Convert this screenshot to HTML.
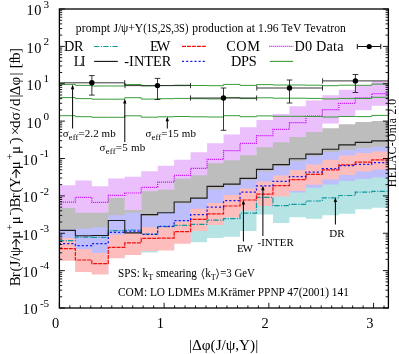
<!DOCTYPE html>
<html><head><meta charset="utf-8"><title>chart</title>
<style>html,body{margin:0;padding:0;background:#fff;}svg{display:block;}text{font-family:"Liberation Serif",serif;fill:#000;}</style></head><body>
<div style="will-change:transform;width:399px;height:354px;overflow:hidden;">
<svg width="399" height="354" viewBox="0 0 399 354">
<rect x="0" y="0" width="399" height="354" fill="#fff"/>
<defs><clipPath id="cp"><rect x="59.4" y="9" width="329" height="299"/></clipPath></defs>
<g clip-path="url(#cp)">
<path d="M58.9 185.2 L75.36 185.2 L75.36 180.6 L91.83 180.6 L91.83 186.2 L108.29 186.2 L108.29 178.6 L124.76 178.6 L124.76 176.7 L141.22 176.7 L141.22 171.2 L157.69 171.2 L157.69 165.7 L174.16 165.7 L174.16 159.7 L190.62 159.7 L190.62 152.2 L207.09 152.2 L207.09 143.2 L223.55 143.2 L223.55 134.6 L240.02 134.6 L240.02 127.2 L256.48 127.2 L256.48 119.9 L272.94 119.9 L272.94 113.9 L289.41 113.9 L289.41 106.2 L305.88 106.2 L305.88 100.5 L322.34 100.5 L322.34 95.2 L338.8 95.2 L338.8 89.8 L355.27 89.8 L355.27 85.5 L371.73 85.5 L371.73 81.2 L388.2 81.2 L388.2 105.8 L371.73 105.8 L371.73 110.3 L355.27 110.3 L355.27 116.7 L338.8 116.7 L338.8 123.5 L322.34 123.5 L322.34 135.9 L305.88 135.9 L305.88 141.1 L289.41 141.1 L289.41 146.3 L272.94 146.3 L272.94 151.3 L256.48 151.3 L256.48 159.3 L240.02 159.3 L240.02 164.3 L223.55 164.3 L223.55 167.3 L207.09 167.3 L207.09 179.3 L190.62 179.3 L190.62 182.8 L174.16 182.8 L174.16 193.8 L157.69 193.8 L157.69 195.3 L141.22 195.3 L141.22 213.9 L124.76 213.9 L124.76 202 L108.29 202 L108.29 216.8 L91.83 216.8 L91.83 216.8 L75.36 216.8 L75.36 212 L58.9 212Z" fill="#ebbefc" stroke="none"/>
<path d="M58.9 208 L75.36 208 L75.36 212.8 L91.83 212.8 L91.83 212.8 L108.29 212.8 L108.29 198 L124.76 198 L124.76 209.9 L141.22 209.9 L141.22 191.3 L157.69 191.3 L157.69 189.8 L174.16 189.8 L174.16 178.8 L190.62 178.8 L190.62 175.3 L207.09 175.3 L207.09 163.3 L223.55 163.3 L223.55 160.3 L240.02 160.3 L240.02 155.3 L256.48 155.3 L256.48 147.3 L272.94 147.3 L272.94 142.3 L289.41 142.3 L289.41 137.1 L305.88 137.1 L305.88 131.9 L322.34 131.9 L322.34 128.3 L338.8 128.3 L338.8 124.3 L355.27 124.3 L355.27 122.1 L371.73 122.1 L371.73 120.9 L388.2 120.9 L388.2 149.7 L371.73 149.7 L371.73 151 L355.27 151 L355.27 153.1 L338.8 153.1 L338.8 155 L322.34 155 L322.34 159.1 L305.88 159.1 L305.88 164 L289.41 164 L289.41 169.3 L272.94 169.3 L272.94 174.5 L256.48 174.5 L256.48 183 L240.02 183 L240.02 188.5 L223.55 188.5 L223.55 192.5 L207.09 192.5 L207.09 202 L190.62 202 L190.62 206.5 L174.16 206.5 L174.16 215 L157.69 215 L157.69 219.2 L141.22 219.2 L141.22 215.8 L124.76 215.8 L124.76 218.2 L108.29 218.2 L108.29 230.3 L91.83 230.3 L91.83 231.7 L75.36 231.7 L75.36 232.5 L58.9 232.5Z" fill="#bdbdbd" stroke="none"/>
<path d="M58.9 257.8 L75.36 257.8 L75.36 269 L91.83 269 L91.83 271.6 L108.29 271.6 L108.29 255.3 L124.76 255.3 L124.76 252 L141.22 252 L141.22 248 L157.69 248 L157.69 247.5 L174.16 247.5 L174.16 240.8 L190.62 240.8 L190.62 228 L207.09 228 L207.09 222 L223.55 222 L223.55 214.5 L240.02 214.5 L240.02 207.6 L256.48 207.6 L256.48 203 L272.94 203 L272.94 193.4 L289.41 193.4 L289.41 188.1 L305.88 188.1 L305.88 181.8 L322.34 181.8 L322.34 176.5 L338.8 176.5 L338.8 172 L355.27 172 L355.27 168.6 L371.73 168.6 L371.73 166.6 L388.2 166.6 L388.2 207.8 L371.73 207.8 L371.73 209.2 L355.27 209.2 L355.27 213.8 L338.8 213.8 L338.8 215.3 L322.34 215.3 L322.34 218.7 L305.88 218.7 L305.88 217.3 L289.41 217.3 L289.41 223 L272.94 223 L272.94 214.6 L256.48 214.6 L256.48 231 L240.02 231 L240.02 236.8 L223.55 236.8 L223.55 238 L207.09 238 L207.09 242.3 L190.62 242.3 L190.62 242.8 L174.16 242.8 L174.16 249.5 L157.69 249.5 L157.69 252.5 L141.22 252.5 L141.22 254 L124.76 254 L124.76 257.3 L108.29 257.3 L108.29 273.6 L91.83 273.6 L91.83 271 L75.36 271 L75.36 259.8 L58.9 259.8Z" fill="#b6e3e4" stroke="none"/>
<path d="M58.9 229.5 L75.36 229.5 L75.36 228.7 L91.83 228.7 L91.83 227.3 L108.29 227.3 L108.29 215.2 L124.76 215.2 L124.76 212.8 L141.22 212.8 L141.22 216.2 L157.69 216.2 L157.69 212 L174.16 212 L174.16 203.5 L190.62 203.5 L190.62 199 L207.09 199 L207.09 189.5 L223.55 189.5 L223.55 185.5 L240.02 185.5 L240.02 180 L256.48 180 L256.48 171.5 L272.94 171.5 L272.94 166.3 L289.41 166.3 L289.41 161 L305.88 161 L305.88 156.1 L322.34 156.1 L322.34 152 L338.8 152 L338.8 150.1 L355.27 150.1 L355.27 148 L371.73 148 L371.73 146.7 L388.2 146.7 L388.2 177.6 L371.73 177.6 L371.73 179 L355.27 179 L355.27 181 L338.8 181 L338.8 184.5 L322.34 184.5 L322.34 187.7 L305.88 187.7 L305.88 192.5 L289.41 192.5 L289.41 195.4 L272.94 195.4 L272.94 205 L256.48 205 L256.48 209.6 L240.02 209.6 L240.02 216.5 L223.55 216.5 L223.55 224 L207.09 224 L207.09 230 L190.62 230 L190.62 242.8 L174.16 242.8 L174.16 249.5 L157.69 249.5 L157.69 250 L141.22 250 L141.22 254 L124.76 254 L124.76 257.3 L108.29 257.3 L108.29 273.6 L91.83 273.6 L91.83 271 L75.36 271 L75.36 259.8 L58.9 259.8Z" fill="#bebefd" stroke="none"/>
<path d="M58.9 238 L75.36 238 L75.36 249 L91.83 249 L91.83 253.1 L108.29 253.1 L108.29 234.8 L124.76 234.8 L124.76 233 L141.22 233 L141.22 227.3 L157.69 227.3 L157.69 226.5 L174.16 226.5 L174.16 221.5 L190.62 221.5 L190.62 208.8 L207.09 208.8 L207.09 203 L223.55 203 L223.55 195 L240.02 195 L240.02 188.5 L256.48 188.5 L256.48 181.6 L272.94 181.6 L272.94 175.4 L289.41 175.4 L289.41 170 L305.88 170 L305.88 164.6 L322.34 164.6 L322.34 159.8 L338.8 159.8 L338.8 155.6 L355.27 155.6 L355.27 153 L371.73 153 L371.73 151.5 L388.2 151.5 L388.2 169.6 L371.73 169.6 L371.73 171.6 L355.27 171.6 L355.27 175 L338.8 175 L338.8 179.5 L322.34 179.5 L322.34 184.8 L305.88 184.8 L305.88 191.1 L289.41 191.1 L289.41 196.4 L272.94 196.4 L272.94 206 L256.48 206 L256.48 210.6 L240.02 210.6 L240.02 217.5 L223.55 217.5 L223.55 225 L207.09 225 L207.09 231 L190.62 231 L190.62 243.8 L174.16 243.8 L174.16 250.5 L157.69 250.5 L157.69 251 L141.22 251 L141.22 255 L124.76 255 L124.76 258.3 L108.29 258.3 L108.29 274.6 L91.83 274.6 L91.83 272 L75.36 272 L75.36 260.8 L58.9 260.8Z" fill="#fdbdbd" stroke="none"/>
</g>
<g clip-path="url(#cp)">
<path d="M58.9 202.1 L75.36 202.1 L75.36 197.4 L91.83 197.4 L91.83 202.4 L108.29 202.4 L108.29 195.4 L124.76 195.4 L124.76 193 L141.22 193 L141.22 187.4 L157.69 187.4 L157.69 182.1 L174.16 182.1 L174.16 175.4 L190.62 175.4 L190.62 168.4 L207.09 168.4 L207.09 159.4 L223.55 159.4 L223.55 150.7 L240.02 150.7 L240.02 143.4 L256.48 143.4 L256.48 135.6 L272.94 135.6 L272.94 129.4 L289.41 129.4 L289.41 122.6 L305.88 122.6 L305.88 116.2 L322.34 116.2 L322.34 109.6 L338.8 109.6 L338.8 103.4 L355.27 103.4 L355.27 97.9 L371.73 97.9 L371.73 93.6 L388.2 93.6" fill="none" stroke="#c400f6" stroke-width="1.2" stroke-dasharray="1 1" stroke-linejoin="miter"/>
<path d="M58.9 240.7 L75.36 240.7 L75.36 237.1 L91.83 237.1 L91.83 237.4 L108.29 237.4 L108.29 230.7 L124.76 230.7 L124.76 230 L141.22 230 L141.22 234.2 L157.69 234.2 L157.69 226.7 L174.16 226.7 L174.16 225.4 L190.62 225.4 L190.62 224.4 L207.09 224.4 L207.09 220.1 L223.55 220.1 L223.55 218.6 L240.02 218.6 L240.02 213.2 L256.48 213.2 L256.48 197.4 L272.94 197.4 L272.94 205.7 L289.41 205.7 L289.41 204.4 L305.88 204.4 L305.88 201 L322.34 201 L322.34 197.8 L338.8 197.8 L338.8 195.5 L355.27 195.5 L355.27 192.2 L371.73 192.2 L371.73 191.4 L388.2 191.4" fill="none" stroke="#12989f" stroke-width="1.2" stroke-dasharray="5.3 1.5 1.1 1.3" stroke-linejoin="miter"/>
<path d="M58.9 248.6 L75.36 248.6 L75.36 260 L91.83 260 L91.83 263.7 L108.29 263.7 L108.29 247.4 L124.76 247.4 L124.76 242.9 L141.22 242.9 L141.22 238.4 L157.69 238.4 L157.69 238.1 L174.16 238.1 L174.16 231.7 L190.62 231.7 L190.62 219.4 L207.09 219.4 L207.09 213.8 L223.55 213.8 L223.55 206 L240.02 206 L240.02 200 L256.48 200 L256.48 194.2 L272.94 194.2 L272.94 185.6 L289.41 185.6 L289.41 179.7 L305.88 179.7 L305.88 174.4 L322.34 174.4 L322.34 169.8 L338.8 169.8 L338.8 164.8 L355.27 164.8 L355.27 162.2 L371.73 162.2 L371.73 159.8 L388.2 159.8" fill="none" stroke="#f01010" stroke-width="1.2" stroke-dasharray="4 0.95" stroke-linejoin="miter"/>
<path d="M58.9 243.6 L75.36 243.6 L75.36 245.7 L91.83 245.7 L91.83 243.6 L108.29 243.6 L108.29 232.3 L124.76 232.3 L124.76 231 L141.22 231 L141.22 234.3 L157.69 234.3 L157.69 226.3 L174.16 226.3 L174.16 220.6 L190.62 220.6 L190.62 214.7 L207.09 214.7 L207.09 207 L223.55 207 L223.55 200.7 L240.02 200.7 L240.02 192 L256.48 192 L256.48 185.9 L272.94 185.9 L272.94 181.3 L289.41 181.3 L289.41 176.6 L305.88 176.6 L305.88 172 L322.34 172 L322.34 168.7 L338.8 168.7 L338.8 165.7 L355.27 165.7 L355.27 164.3 L371.73 164.3 L371.73 162.7 L388.2 162.7" fill="none" stroke="#1818f0" stroke-width="1.25" stroke-dasharray="2.1 2.05" stroke-linejoin="miter"/>
<path d="M58.9 230.4 L75.36 230.4 L75.36 235.8 L91.83 235.8 L91.83 235.5 L108.29 235.5 L108.29 220.5 L124.76 220.5 L124.76 232.9 L141.22 232.9 L141.22 214.6 L157.69 214.6 L157.69 212.8 L174.16 212.8 L174.16 202 L190.62 202 L190.62 198.1 L207.09 198.1 L207.09 186.4 L223.55 186.4 L223.55 184.1 L240.02 184.1 L240.02 178.4 L256.48 178.4 L256.48 169.4 L272.94 169.4 L272.94 164.6 L289.41 164.6 L289.41 158.8 L305.88 158.8 L305.88 154.1 L322.34 154.1 L322.34 149.2 L338.8 149.2 L338.8 144.9 L355.27 144.9 L355.27 142.4 L371.73 142.4 L371.73 140.9 L388.2 140.9" fill="none" stroke="#1c1c1c" stroke-width="1.1" stroke-linejoin="miter"/>
<path d="M58.9 84.4 L75.36 84.4 L75.36 85.4 L91.83 85.4 L91.83 86 L108.29 86 L108.29 86 L124.76 86 L124.76 84.5 L141.22 84.5 L141.22 85.9 L157.69 85.9 L157.69 85.5 L174.16 85.5 L174.16 85.2 L190.62 85.2 L190.62 85.5 L207.09 85.5 L207.09 85.7 L223.55 85.7 L223.55 84.4 L240.02 84.4 L240.02 85.4 L256.48 85.4 L256.48 84.6 L272.94 84.6 L272.94 85 L289.41 85 L289.41 85 L305.88 85 L305.88 85.2 L322.34 85.2 L322.34 85.7 L338.8 85.7 L338.8 85.2 L355.27 85.2 L355.27 85.3 L371.73 85.3 L371.73 84.1 L388.2 84.1" fill="none" stroke="#3a9c3a" stroke-width="1.0" stroke-linejoin="miter"/>
<path d="M58.9 97.6 L75.36 97.6 L75.36 98.6 L91.83 98.6 L91.83 99.2 L108.29 99.2 L108.29 99.2 L124.76 99.2 L124.76 97.7 L141.22 97.7 L141.22 99.1 L157.69 99.1 L157.69 98.7 L174.16 98.7 L174.16 98.4 L190.62 98.4 L190.62 98.7 L207.09 98.7 L207.09 98.9 L223.55 98.9 L223.55 97.6 L240.02 97.6 L240.02 98.6 L256.48 98.6 L256.48 97.8 L272.94 97.8 L272.94 98.2 L289.41 98.2 L289.41 98.2 L305.88 98.2 L305.88 98.4 L322.34 98.4 L322.34 98.9 L338.8 98.9 L338.8 98.4 L355.27 98.4 L355.27 98.5 L371.73 98.5 L371.73 97.3 L388.2 97.3" fill="none" stroke="#3a9c3a" stroke-width="1.0" stroke-linejoin="miter"/>
<path d="M58.9 115.7 L75.36 115.7 L75.36 116.7 L91.83 116.7 L91.83 117.3 L108.29 117.3 L108.29 117.3 L124.76 117.3 L124.76 115.8 L141.22 115.8 L141.22 117.2 L157.69 117.2 L157.69 116.8 L174.16 116.8 L174.16 116.5 L190.62 116.5 L190.62 116.8 L207.09 116.8 L207.09 117 L223.55 117 L223.55 115.7 L240.02 115.7 L240.02 116.7 L256.48 116.7 L256.48 115.9 L272.94 115.9 L272.94 116.3 L289.41 116.3 L289.41 116.3 L305.88 116.3 L305.88 116.5 L322.34 116.5 L322.34 117 L338.8 117 L338.8 116.5 L355.27 116.5 L355.27 116.6 L371.73 116.6 L371.73 115.4 L388.2 115.4" fill="none" stroke="#3a9c3a" stroke-width="1.0" stroke-linejoin="miter"/>
</g>
<g stroke="#222" stroke-width="0.9" fill="none">
<path d="M59.4 82.8 H124.7 M59.4 80.2 V85.4 M124.7 80.2 V85.4 M91.85 75.6 V95.1 M89.05 75.6 H94.65 M89.05 95.1 H94.65"/>
<path d="M125 85.6 H190.5 M125 83 V88.2 M190.5 83 V88.2 M157.5 78.4 V99.5 M154.7 78.4 H160.3 M154.7 99.5 H160.3"/>
<path d="M190.5 98 H256.6 M190.5 95.4 V100.6 M256.6 95.4 V100.6 M223.5 88 V130.3 M220.7 88 H226.3 M220.7 130.3 H226.3"/>
<path d="M256.8 88 H322.5 M256.8 85.4 V90.6 M322.5 85.4 V90.6 M289.5 80 V103 M286.7 80 H292.3 M286.7 103 H292.3"/>
<path d="M322.6 80.9 H388.4 M322.6 78.3 V83.5 M388.4 78.3 V83.5 M355.4 74.5 V92.5 M352.6 74.5 H358.2 M352.6 92.5 H358.2"/>
</g>
<circle cx="91.85" cy="82.8" r="2.7" fill="#000"/>
<circle cx="157.5" cy="85.6" r="2.7" fill="#000"/>
<circle cx="223.5" cy="98" r="2.7" fill="#000"/>
<circle cx="289.5" cy="88" r="2.7" fill="#000"/>
<circle cx="355.4" cy="80.9" r="2.7" fill="#000"/>
<path d="M72.6 128.5 V86.6" stroke="#000" stroke-width="1" fill="none"/><path d="M72.6 84.6 L70.9 89.2 L74.3 89.2 Z" fill="#000"/>
<path d="M124.8 142 V100.8" stroke="#000" stroke-width="1" fill="none"/><path d="M124.8 98.8 L123.1 103.4 L126.5 103.4 Z" fill="#000"/>
<path d="M167.3 128.5 V118.7" stroke="#000" stroke-width="1" fill="none"/><path d="M167.3 116.7 L165.6 121.3 L169 121.3 Z" fill="#000"/>
<path d="M243.4 241.5 V202" stroke="#000" stroke-width="1" fill="none"/><path d="M243.4 200 L241.7 204.6 L245.1 204.6 Z" fill="#000"/>
<path d="M262.9 236 V187.6" stroke="#000" stroke-width="1" fill="none"/><path d="M262.9 185.6 L261.2 190.2 L264.6 190.2 Z" fill="#000"/>
<path d="M335.4 224.5 V199.4" stroke="#000" stroke-width="1" fill="none"/><path d="M335.4 197.4 L333.7 202 L337.1 202 Z" fill="#000"/>
<g stroke="#000" fill="none">
<rect x="59.4" y="9" width="329" height="299" stroke-width="1.3"/>
<path d="M59.4 9 h5.5 M388.4 9 h-5.5 M59.4 35.12 h2.8 M388.4 35.12 h-2.8 M59.4 28.54 h2.8 M388.4 28.54 h-2.8 M59.4 23.87 h2.8 M388.4 23.87 h-2.8 M59.4 20.25 h2.8 M388.4 20.25 h-2.8 M59.4 17.29 h2.8 M388.4 17.29 h-2.8 M59.4 14.79 h2.8 M388.4 14.79 h-2.8 M59.4 12.62 h2.8 M388.4 12.62 h-2.8 M59.4 10.71 h2.8 M388.4 10.71 h-2.8 M59.4 46.38 h5.5 M388.4 46.38 h-5.5 M59.4 72.5 h2.8 M388.4 72.5 h-2.8 M59.4 65.92 h2.8 M388.4 65.92 h-2.8 M59.4 61.25 h2.8 M388.4 61.25 h-2.8 M59.4 57.63 h2.8 M388.4 57.63 h-2.8 M59.4 54.67 h2.8 M388.4 54.67 h-2.8 M59.4 52.16 h2.8 M388.4 52.16 h-2.8 M59.4 50 h2.8 M388.4 50 h-2.8 M59.4 48.09 h2.8 M388.4 48.09 h-2.8 M59.4 83.75 h5.5 M388.4 83.75 h-5.5 M59.4 109.87 h2.8 M388.4 109.87 h-2.8 M59.4 103.29 h2.8 M388.4 103.29 h-2.8 M59.4 98.62 h2.8 M388.4 98.62 h-2.8 M59.4 95 h2.8 M388.4 95 h-2.8 M59.4 92.04 h2.8 M388.4 92.04 h-2.8 M59.4 89.54 h2.8 M388.4 89.54 h-2.8 M59.4 87.37 h2.8 M388.4 87.37 h-2.8 M59.4 85.46 h2.8 M388.4 85.46 h-2.8 M59.4 121.12 h5.5 M388.4 121.12 h-5.5 M59.4 147.25 h2.8 M388.4 147.25 h-2.8 M59.4 140.67 h2.8 M388.4 140.67 h-2.8 M59.4 136 h2.8 M388.4 136 h-2.8 M59.4 132.38 h2.8 M388.4 132.38 h-2.8 M59.4 129.42 h2.8 M388.4 129.42 h-2.8 M59.4 126.91 h2.8 M388.4 126.91 h-2.8 M59.4 124.75 h2.8 M388.4 124.75 h-2.8 M59.4 122.84 h2.8 M388.4 122.84 h-2.8 M59.4 158.5 h5.5 M388.4 158.5 h-5.5 M59.4 184.62 h2.8 M388.4 184.62 h-2.8 M59.4 178.04 h2.8 M388.4 178.04 h-2.8 M59.4 173.37 h2.8 M388.4 173.37 h-2.8 M59.4 169.75 h2.8 M388.4 169.75 h-2.8 M59.4 166.79 h2.8 M388.4 166.79 h-2.8 M59.4 164.29 h2.8 M388.4 164.29 h-2.8 M59.4 162.12 h2.8 M388.4 162.12 h-2.8 M59.4 160.21 h2.8 M388.4 160.21 h-2.8 M59.4 195.88 h5.5 M388.4 195.88 h-5.5 M59.4 222 h2.8 M388.4 222 h-2.8 M59.4 215.42 h2.8 M388.4 215.42 h-2.8 M59.4 210.75 h2.8 M388.4 210.75 h-2.8 M59.4 207.13 h2.8 M388.4 207.13 h-2.8 M59.4 204.17 h2.8 M388.4 204.17 h-2.8 M59.4 201.66 h2.8 M388.4 201.66 h-2.8 M59.4 199.5 h2.8 M388.4 199.5 h-2.8 M59.4 197.59 h2.8 M388.4 197.59 h-2.8 M59.4 233.25 h5.5 M388.4 233.25 h-5.5 M59.4 259.37 h2.8 M388.4 259.37 h-2.8 M59.4 252.79 h2.8 M388.4 252.79 h-2.8 M59.4 248.12 h2.8 M388.4 248.12 h-2.8 M59.4 244.5 h2.8 M388.4 244.5 h-2.8 M59.4 241.54 h2.8 M388.4 241.54 h-2.8 M59.4 239.04 h2.8 M388.4 239.04 h-2.8 M59.4 236.87 h2.8 M388.4 236.87 h-2.8 M59.4 234.96 h2.8 M388.4 234.96 h-2.8 M59.4 270.62 h5.5 M388.4 270.62 h-5.5 M59.4 296.75 h2.8 M388.4 296.75 h-2.8 M59.4 290.17 h2.8 M388.4 290.17 h-2.8 M59.4 285.5 h2.8 M388.4 285.5 h-2.8 M59.4 281.88 h2.8 M388.4 281.88 h-2.8 M59.4 278.92 h2.8 M388.4 278.92 h-2.8 M59.4 276.41 h2.8 M388.4 276.41 h-2.8 M59.4 274.25 h2.8 M388.4 274.25 h-2.8 M59.4 272.34 h2.8 M388.4 272.34 h-2.8 M59.4 308 h5.5 M388.4 308 h-5.5 M59.4 308 v-5.2 M69.87 308 v-2.6 M80.34 308 v-2.6 M90.82 308 v-2.6 M101.29 308 v-2.6 M111.76 308 v-2.6 M122.23 308 v-2.6 M132.71 308 v-2.6 M143.18 308 v-2.6 M153.65 308 v-2.6 M164.12 308 v-5.2 M174.6 308 v-2.6 M185.07 308 v-2.6 M195.54 308 v-2.6 M206.01 308 v-2.6 M216.49 308 v-2.6 M226.96 308 v-2.6 M237.43 308 v-2.6 M247.9 308 v-2.6 M258.38 308 v-2.6 M268.85 308 v-5.2 M279.32 308 v-2.6 M289.79 308 v-2.6 M300.27 308 v-2.6 M310.74 308 v-2.6 M321.21 308 v-2.6 M331.68 308 v-2.6 M342.15 308 v-2.6 M352.63 308 v-2.6 M363.1 308 v-2.6 M373.57 308 v-5.2 M384.04 308 v-2.6" stroke-width="0.9"/>
</g>
<text x="26.4" y="15.4" font-size="14.3" letter-spacing="0.8">10</text>
<text x="43.4" y="7.7" font-size="11.2">3</text>
<text x="26.4" y="52.77" font-size="14.3" letter-spacing="0.8">10</text>
<text x="43.4" y="45.07" font-size="11.2">2</text>
<text x="26.4" y="90.15" font-size="14.3" letter-spacing="0.8">10</text>
<text x="43.4" y="82.45" font-size="11.2">1</text>
<text x="26.4" y="127.53" font-size="14.3" letter-spacing="0.8">10</text>
<text x="43.4" y="119.83" font-size="11.2">0</text>
<text x="22.6" y="164.9" font-size="14.3" letter-spacing="0.8">10</text>
<text x="39.9" y="157.2" font-size="11.2">-1</text>
<text x="22.6" y="202.28" font-size="14.3" letter-spacing="0.8">10</text>
<text x="39.9" y="194.58" font-size="11.2">-2</text>
<text x="22.6" y="239.65" font-size="14.3" letter-spacing="0.8">10</text>
<text x="39.9" y="231.95" font-size="11.2">-3</text>
<text x="22.6" y="277.02" font-size="14.3" letter-spacing="0.8">10</text>
<text x="39.9" y="269.32" font-size="11.2">-4</text>
<text x="22.6" y="314.4" font-size="14.3" letter-spacing="0.8">10</text>
<text x="39.9" y="306.7" font-size="11.2">-5</text>
<text x="59.2" y="327.8" font-size="14.4" text-anchor="end">0</text>
<text x="163.92" y="327.8" font-size="14.4" text-anchor="end">1</text>
<text x="268.65" y="327.8" font-size="14.4" text-anchor="end">2</text>
<text x="373.37" y="327.8" font-size="14.4" text-anchor="end">3</text>
<text x="189.0" y="349.6" font-size="15.3" textLength="69.2" lengthAdjust="spacing">|Δφ(J/ψ,Υ)|</text>
<g transform="translate(20.0 285.5) rotate(-90)">
<text x="-0.8" y="0" font-size="15">B</text>
<text x="8.32" y="0" font-size="15">r</text>
<text x="14.01" y="0" font-size="15">(</text>
<text x="18.98" y="0" font-size="15">J</text>
<text x="25.02" y="0" font-size="15">/</text>
<text x="29.3" y="0" font-size="15">ψ</text>
<path d="M37.9 -3.9 H46.3 M42 -7.9 L46.3 -3.9 L42 0.1" stroke="#000" stroke-width="1.05" fill="none"/>
<text x="46.88" y="0" font-size="15">μ</text>
<text x="55.15" y="-7.3" font-size="10.8">+</text>
<text x="61.28" y="0" font-size="15">μ</text>
<text x="70" y="-7.3" font-size="10.8">-</text>
<text x="73.19" y="0" font-size="15">)</text>
<text x="78.1" y="0" font-size="15">B</text>
<text x="87.17" y="0" font-size="15">r</text>
<text x="92.91" y="0" font-size="15">(</text>
<text x="97.54" y="0" font-size="15">Υ</text>
<path d="M107.6 -3.9 H116 M111.7 -7.9 L116 -3.9 L111.7 0.1" stroke="#000" stroke-width="1.05" fill="none"/>
<text x="116.38" y="0" font-size="15">μ</text>
<text x="126.05" y="-7.3" font-size="10.8">+</text>
<text x="131.58" y="0" font-size="15">μ</text>
<text x="141.2" y="-7.3" font-size="10.8">-</text>
<text x="143.09" y="0" font-size="15">)</text>
<text x="150.16" y="0" font-size="15">×</text>
<text x="157.42" y="0" font-size="15">d</text>
<text x="165.28" y="0" font-size="15">σ</text>
<text x="174.51" y="0" font-size="15">/</text>
<text x="179.47" y="0" font-size="15">d</text>
<text x="187.9" y="0" font-size="15">|</text>
<text x="190.18" y="0" font-size="15">Δ</text>
<text x="200.02" y="0" font-size="15">φ</text>
<text x="210" y="0" font-size="15">|</text>
<text x="217.22" y="0" font-size="15">[</text>
<text x="221.77" y="0" font-size="15">f</text>
<text x="225.44" y="0" font-size="15">b</text>
<text x="232.64" y="0" font-size="15">]</text>
</g>
<g transform="translate(396.4 187.2) rotate(-90)"><text x="0" y="0" font-size="11.7" textLength="88.2" lengthAdjust="spacing">HELAC-Onia 2.0</text></g>
<text x="75.8" y="31.5" font-size="11.6" textLength="34.3" lengthAdjust="spacing">prompt</text>
<text x="113.4" y="31.5" font-size="11.6" textLength="29.8" lengthAdjust="spacing">J/ψ+Υ</text>
<text x="143.2" y="31.5" font-size="11.6" textLength="45.2" lengthAdjust="spacingAndGlyphs">(1S,2S,3S)</text>
<text x="192.3" y="31.5" font-size="11.6" textLength="153.6" lengthAdjust="spacing">production at 1.96 TeV Tevatron</text>
<text x="64" y="51" font-size="14.3" textLength="19.5" lengthAdjust="spacing">DR</text>
<text x="73.7" y="65.7" font-size="14.3" textLength="11.7" lengthAdjust="spacing">LI</text>
<text x="150" y="51" font-size="14.3" textLength="20.2" lengthAdjust="spacing">EW</text>
<text x="124.3" y="65.7" font-size="14.3" textLength="47" lengthAdjust="spacing">-INTER</text>
<text x="226.2" y="51" font-size="14.3" textLength="33.7" lengthAdjust="spacing">COM</text>
<text x="230.9" y="65.7" font-size="14.3" textLength="25.7" lengthAdjust="spacing">DPS</text>
<text x="294.6" y="51" font-size="14.3" textLength="49" lengthAdjust="spacing">D0 Data</text>
<path d="M94.1 46.45 H117.8" stroke="#12989f" stroke-width="1.1" stroke-dasharray="5.3 1.5 1.1 1.3" fill="none"/>
<path d="M94.1 61.4 H117.8" stroke="#111" stroke-width="1.1" fill="none"/>
<path d="M182.0 46.45 H205.8" stroke="#f01010" stroke-width="1.2" stroke-dasharray="4 0.95" fill="none"/>
<path d="M182.0 61.4 H205.0" stroke="#1818f0" stroke-width="1.25" stroke-dasharray="2.1 2.05" fill="none"/>
<path d="M269.3 46.45 H293.6" stroke="#c400f6" stroke-width="1.2" stroke-dasharray="1 1" fill="none"/>
<path d="M269.8 61.4 H293.1" stroke="#3a9c3a" stroke-width="1.1" fill="none"/>
<path d="M357.3 46.5 H380.8 M357.3 43.9 V49.1 M380.8 43.9 V49.1" stroke="#111" stroke-width="1" fill="none"/>
<circle cx="369.2" cy="46.5" r="2.6" fill="#000"/>
<text x="62.7" y="136.9" font-size="11" textLength="53" lengthAdjust="spacing">σ<tspan dy="3.4" font-size="8.6">eff</tspan><tspan dy="-3.4">=2.2 mb</tspan></text>
<text x="99.6" y="150.9" font-size="11" textLength="45.6" lengthAdjust="spacing">σ<tspan dy="3.4" font-size="8.6">eff</tspan><tspan dy="-3.4">=5 mb</tspan></text>
<text x="145.4" y="136.9" font-size="11" textLength="50.6" lengthAdjust="spacing">σ<tspan dy="3.4" font-size="8.6">eff</tspan><tspan dy="-3.4">=15 mb</tspan></text>
<text x="237.0" y="252.0" font-size="10.8" textLength="16.0" lengthAdjust="spacing">EW</text>
<text x="257.6" y="246.0" font-size="10.8" textLength="36.2" lengthAdjust="spacing">-INTER</text>
<text x="329.3" y="237.3" font-size="11" textLength="15.4" lengthAdjust="spacing">DR</text>
<text x="118.0" y="277.0" font-size="11.7" textLength="78.9" lengthAdjust="spacingAndGlyphs">SPS: k<tspan dy="2.6" font-size="8.6">T</tspan><tspan dy="-2.6"> smearing</tspan></text>
<path d="M204.0 268.6 L202.0 273.9 L204.0 279.2 M216.5 268.6 L218.5 273.9 L216.5 279.2" stroke="#000" stroke-width="0.8" fill="none"/>
<text x="205.2" y="277.0" font-size="11.7" textLength="10.6" lengthAdjust="spacingAndGlyphs">k<tspan dy="2.6" font-size="8.6">T</tspan></text>
<text x="220.2" y="277.0" font-size="11.7" textLength="34.7" lengthAdjust="spacingAndGlyphs">=3 GeV</text>
<text x="118.0" y="296.2" font-size="11.7" textLength="230.9" lengthAdjust="spacingAndGlyphs">COM: LO LDMEs M.Krämer PPNP 47(2001) 141</text>
</svg></div></body></html>
